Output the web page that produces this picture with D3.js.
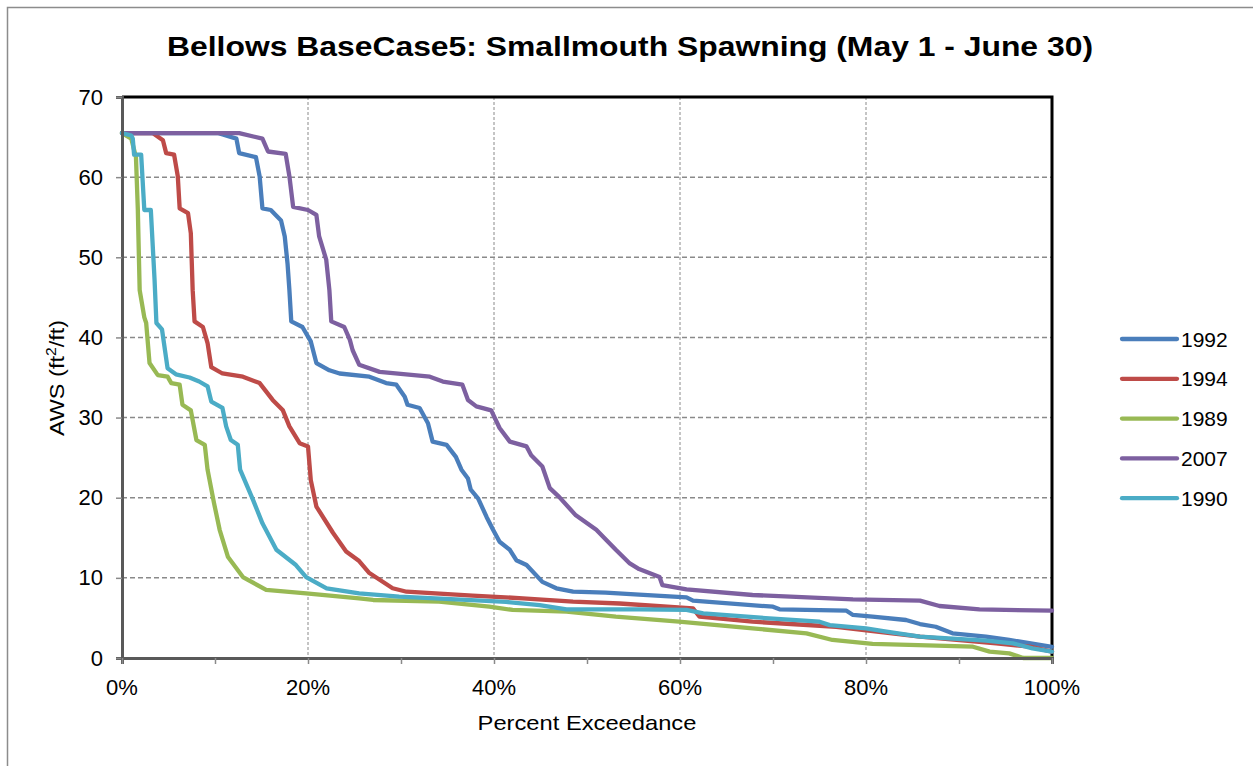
<!DOCTYPE html>
<html><head><meta charset="utf-8">
<script src="https://cdn.jsdelivr.net/npm/d3@7"></script>
<style>body{margin:0;background:#fff}svg{display:block}text{font-family:"Liberation Sans",Arial,sans-serif}</style>
</head><body><svg id="c" width="1253" height="766"></svg>
<script>
const titleText = "Bellows BaseCase5: Smallmouth Spawning (May 1 - June 30)";
const xTitle = "Percent Exceedance";
const yTickValues = [0,10,20,30,40,50,60,70];
const xTickValues = [0,10,20,30,40,50,60,70,80,90,100];
const xLabelValues = [0,20,40,60,80,100];
const seriesNames = ["1992","1994","1989","2007","1990"];
const seriesColors = ["#4A7EBB","#BE4B48","#98B954","#7D60A0","#4BACC6"];

const s1992 = [[0,65.5],[10.3,65.5],[12.3,64.8],[12.6,63.0],[14.4,62.5],[14.8,60.1],[15.1,56.1],[16.0,55.9],[17.1,54.6],[17.5,52.6],[17.8,49.2],[18.0,45.9],[18.2,42.0],[19.4,41.3],[20.3,39.5],[20.9,36.8],[22.3,35.9],[23.4,35.5],[26.6,35.1],[28.4,34.3],[29.5,34.1],[30.4,32.6],[30.7,31.6],[32.0,31.2],[32.9,29.3],[33.4,27.0],[34.9,26.6],[35.9,25.1],[36.5,23.5],[37.2,22.4],[37.5,21.0],[38.3,19.9],[39.2,17.6],[39.9,16.0],[40.6,14.5],[41.7,13.5],[42.4,12.2],[43.5,11.6],[45.2,9.5],[46.7,8.7],[48.5,8.27],[52.0,8.15],[55.6,7.9],[60.7,7.57],[61.4,7.15],[70.0,6.4],[70.7,6.07],[77.9,5.9],[78.6,5.37],[80.7,5.15],[84.3,4.74],[85.8,4.24],[87.5,3.9],[89.3,3.08],[92.9,2.66],[95.4,2.25],[100,1.4]];
const s1994 = [[0,65.5],[3.3,65.5],[4.4,64.6],[4.75,63.0],[5.6,62.8],[6.0,60.1],[6.2,56.1],[7.1,55.5],[7.4,53.0],[7.6,45.9],[7.8,42.0],[8.7,41.3],[9.2,39.3],[9.6,36.3],[10.8,35.5],[13.0,35.1],[14.8,34.3],[16.2,32.2],[17.3,30.9],[18.0,28.9],[19.1,26.8],[20.0,26.4],[20.3,22.2],[20.9,18.9],[22.7,15.6],[24.1,13.3],[25.5,12.1],[26.6,10.6],[29.1,8.7],[30.6,8.27],[37.7,7.78],[43.1,7.45],[48.5,7.03],[53.5,6.8],[61.4,6.2],[62.1,5.15],[67.8,4.53],[76.8,3.9],[85.8,2.66],[94.0,1.83],[97.6,1.41],[100,0.8]];
const s1989 = [[0,65.5],[1.0,64.8],[1.5,62.5],[1.7,56],[1.9,45.9],[2.4,42.5],[2.6,41.8],[2.96,36.8],[3.85,35.3],[4.9,35.1],[5.3,34.3],[6.2,34.1],[6.5,31.6],[7.4,30.9],[8.0,27.2],[8.9,26.6],[9.2,23.5],[9.9,19.3],[10.5,16.0],[11.4,12.6],[13.0,10.1],[15.5,8.5],[19.8,8.07],[25.5,7.45],[27.0,7.24],[34.1,7.03],[39.5,6.4],[42.0,6.0],[47.8,5.78],[53.1,5.15],[59.9,4.53],[67.8,3.7],[73.6,3.08],[76.4,2.25],[80.7,1.75],[91.5,1.41],[93.3,0.79],[95.4,0.58],[96.9,0],[100,0]];
const s2007 = [[0,65.5],[12.6,65.5],[15.1,64.8],[15.7,63.2],[17.6,62.9],[18.0,60.1],[18.4,56.3],[20.0,55.9],[20.9,55.3],[21.2,52.6],[21.96,49.7],[22.3,45.9],[22.5,42.0],[23.9,41.3],[24.5,39.7],[24.8,38.4],[25.5,36.6],[27.7,35.7],[33.1,35.1],[34.5,34.5],[36.6,34.1],[37.2,32.2],[38.1,31.4],[39.7,30.9],[40.6,28.7],[41.7,27.0],[43.5,26.4],[44.0,25.3],[45.2,23.9],[46.0,21.2],[47.0,20.1],[48.8,17.8],[51.0,16.0],[52.1,14.7],[53.1,13.5],[54.6,11.8],[55.6,11.1],[57.8,10.1],[58.1,9.1],[60.7,8.57],[67.8,7.86],[78.6,7.32],[85.8,7.15],[87.9,6.49],[92.2,6.07],[100,5.9]];
const s1990 = [[0,65.5],[1.0,65.2],[1.16,64.8],[1.3,62.8],[2.06,62.8],[2.4,55.9],[3.1,55.9],[3.5,47.2],[3.7,41.8],[4.3,41.0],[4.9,36.15],[5.8,35.4],[7.26,35.0],[8.3,34.5],[9.2,33.9],[9.6,32.0],[10.8,31.2],[11.2,28.9],[11.7,27.2],[12.45,26.6],[12.7,23.5],[14.1,19.7],[15.1,16.8],[16.6,13.5],[18.7,11.6],[19.8,10.1],[22.0,8.7],[25.5,8.07],[29.8,7.65],[37.0,7.24],[41.3,7.0],[44.9,6.6],[47.8,6.07],[55.6,6.07],[60.7,6.0],[62.5,5.57],[69.6,4.95],[75.0,4.53],[76.1,4.1],[80.0,3.7],[82.2,3.3],[85.8,2.66],[92.9,2.16],[95.8,1.83],[97.9,1.2],[100,0.8]];
const seriesData = [s1992,s1994,s1989,s2007,s1990];

const svg = d3.select("#c");
const L=122, R=1052, T=97, B=658;
const x = d3.scaleLinear().domain([0,100]).range([L,R]);
const y = d3.scaleLinear().domain([0,70]).range([B,T]);

// outer border
svg.append("rect").attr("x",7.5).attr("y",7.5).attr("width",1260).attr("height",800)
  .attr("fill","none").attr("stroke","#8c8c8c").attr("stroke-width",1.5);

// title
svg.append("text").attr("x",630).attr("y",56).attr("text-anchor","middle")
  .attr("font-size",28).attr("font-weight","bold")
  .attr("textLength",926).attr("lengthAdjust","spacingAndGlyphs").text(titleText);

// gridlines horizontal
svg.append("g").selectAll("line").data(yTickValues.filter(d=>d>0 && d<70)).join("line")
  .attr("x1",L).attr("x2",R).attr("y1",d=>y(d)).attr("y2",d=>y(d))
  .attr("stroke","#8a8a8a").attr("stroke-width",1.5).attr("stroke-dasharray","5,3");
// gridlines vertical
svg.append("g").selectAll("line").data([20,40,60,80]).join("line")
  .attr("y1",T).attr("y2",B).attr("x1",d=>x(d)).attr("x2",d=>x(d))
  .attr("stroke","#8a8a8a").attr("stroke-width",1).attr("stroke-dasharray","3,2");

// top/right border
svg.append("path").attr("d",`M${L},${T}H${R}V${B}`).attr("fill","none")
  .attr("stroke","#000").attr("stroke-width",3);

// lines
const line = d3.line().x(d=>x(d[0])).y(d=>y(d[1]));
svg.append("g").selectAll("path").data(seriesData).join("path")
  .attr("d",line).attr("fill","none").attr("stroke",(d,i)=>seriesColors[i])
  .attr("stroke-width",4.3).attr("stroke-linejoin","round").attr("stroke-linecap","round");

// axes
const yAxis = d3.axisLeft(y).tickValues(yTickValues).tickSize(6).tickPadding(13);
const gy = svg.append("g").attr("transform",`translate(${L},0)`).call(yAxis);
gy.select(".domain").attr("stroke","#595959").attr("stroke-width",3);
gy.selectAll(".tick line").attr("stroke","#8a8a8a").attr("stroke-width",1.5);
gy.selectAll(".tick text").attr("font-size",22).attr("fill","#000").attr("font-family","Liberation Sans, Arial, sans-serif");

const xAxis = d3.axisBottom(x).tickValues(xTickValues).tickSize(6).tickFormat(()=>"");
const gx = svg.append("g").attr("transform",`translate(0,${B})`).call(xAxis);
gx.select(".domain").attr("stroke","#595959").attr("stroke-width",3);
gx.selectAll(".tick line").attr("stroke","#8a8a8a").attr("stroke-width",1.5);
svg.append("g").selectAll("text").data(xLabelValues).join("text")
  .attr("x",d=>x(d)).attr("y",695).attr("text-anchor","middle").attr("font-size",22)
  .text(d=>d+"%");

// axis titles
svg.append("text").attr("transform","translate(587,730) scale(1.13,1)").attr("text-anchor","middle").attr("font-size",21).text(xTitle);
const yt = svg.append("text").attr("transform","translate(64,378) rotate(-90) scale(1.12,1)").attr("text-anchor","middle").attr("font-size",21);
yt.append("tspan").text("AWS (ft");
yt.append("tspan").attr("font-size",14).attr("dy",-8).text("2");
yt.append("tspan").attr("dy",8).text("/ft)");

// legend
const lg = svg.append("g").selectAll("g").data(seriesNames).join("g")
  .attr("transform",(d,i)=>`translate(1122,${339+i*39.8})`);
lg.append("line").attr("x1",0).attr("x2",55).attr("stroke",(d,i)=>seriesColors[i])
  .attr("stroke-width",4.3).attr("stroke-linecap","round");
lg.append("text").attr("x",59).attr("y",7.5).attr("font-size",21).text(d=>d);
</script></body></html>
